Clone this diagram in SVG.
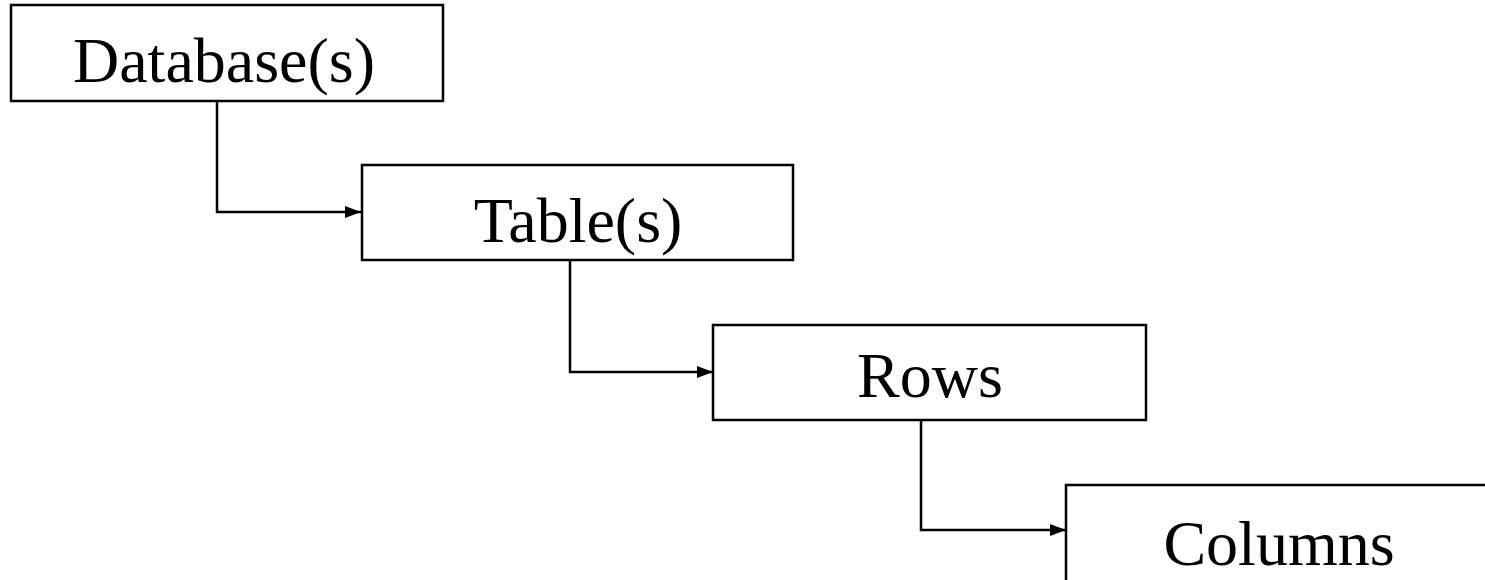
<svg xmlns="http://www.w3.org/2000/svg" width="1485" height="580" viewBox="0 0 1485 580">
<style>
.box{fill:#fff;stroke:#000;stroke-width:2.5}
.lbl{font-family:"Liberation Serif","Times New Roman",serif;font-size:64px;fill:#000;text-anchor:middle}
.con{fill:none;stroke:#000;stroke-width:2.5}
</style>
<defs>
<marker id="ah" markerWidth="16" markerHeight="14" refX="16" refY="7" orient="auto" markerUnits="userSpaceOnUse">
<path d="M0,1 L16,7 L0,13 Z" fill="#000"/>
</marker>
</defs>
<rect width="1485" height="580" fill="#fff"/>
<g id="connectors">
<path class="con" d="M217,101 V212 H361" marker-end="url(#ah)"/>
<path class="con" d="M570,260 V372 H713" marker-end="url(#ah)"/>
<path class="con" d="M921,420 V530 H1066" marker-end="url(#ah)"/>
</g>
<g id="database">
<rect class="box" x="11" y="5" width="432" height="96"/>
<text class="lbl" x="224" y="82">Database(s)</text>
</g>
<g id="tables">
<rect class="box" x="362" y="165" width="431" height="95"/>
<text class="lbl" x="578" y="242">Table(s)</text>
</g>
<g id="rows">
<rect class="box" x="713" y="325" width="433" height="95"/>
<text class="lbl" x="930" y="397">Rows</text>
</g>
<g id="columns">
<rect class="box" x="1066" y="485" width="432" height="120"/>
<text class="lbl" x="1279" y="565">Columns</text>
</g>
</svg>
